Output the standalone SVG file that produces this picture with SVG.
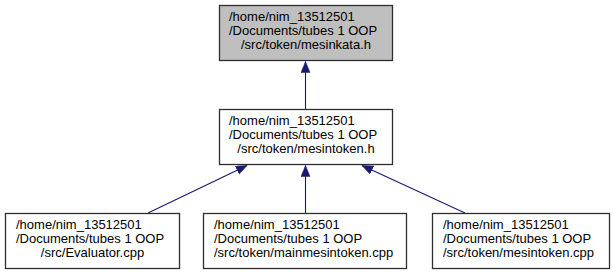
<svg xmlns="http://www.w3.org/2000/svg" width="613" height="275" viewBox="0 0 613 275">
  <style>
    .box { fill: #ffffff; stroke: #2e2e2e; stroke-width: 1.3; }
    .box.current { fill: #bfbfbf; }
    text { font-family: "Liberation Sans", Arial, Helvetica, sans-serif; font-size: 13px; fill: #000000; }
    .mid { text-anchor: middle; }
    .edge { fill: none; stroke: #191970; stroke-width: 1.1; }
  </style>
  <defs>
    <marker id="head" markerUnits="userSpaceOnUse" markerWidth="12" markerHeight="10" refX="11" refY="4.5" orient="auto">
      <path d="M0,0 L11,4.5 L0,9 z" fill="#191970" stroke="#191970" stroke-width="0.5"/>
    </marker>
  </defs>

  <g id="edges">
    <path class="edge" d="M305.5,109 L305.5,61.5" marker-end="url(#head)"/>
    <path class="edge" d="M305.5,213 L305.5,165.5" marker-end="url(#head)"/>
    <path class="edge" d="M148,213 L247,165.5" marker-end="url(#head)"/>
    <path class="edge" d="M465,213 L362,165.5" marker-end="url(#head)"/>
  </g>

  <g id="node-mesinkata-h">
    <rect class="box current" x="219.5" y="5.5" width="173" height="55"/>
    <text x="229" y="21">/home/nim_13512501</text>
    <text x="229" y="35">/Documents/tubes 1 OOP</text>
    <text class="mid" x="306" y="49">/src/token/mesinkata.h</text>
  </g>

  <g id="node-mesintoken-h">
    <rect class="box" x="219.5" y="109.5" width="173" height="55"/>
    <text x="229" y="125">/home/nim_13512501</text>
    <text x="229" y="139">/Documents/tubes 1 OOP</text>
    <text class="mid" x="306" y="153">/src/token/mesintoken.h</text>
  </g>

  <g id="node-evaluator-cpp">
    <rect class="box" x="5.5" y="213.5" width="174" height="55"/>
    <text x="16" y="229">/home/nim_13512501</text>
    <text x="16" y="243">/Documents/tubes 1 OOP</text>
    <text class="mid" x="92.5" y="257">/src/Evaluator.cpp</text>
  </g>

  <g id="node-mainmesintoken-cpp">
    <rect class="box" x="203.5" y="213.5" width="203" height="55"/>
    <text x="214" y="229">/home/nim_13512501</text>
    <text x="214" y="243">/Documents/tubes 1 OOP</text>
    <text x="214" y="257">/src/token/mainmesintoken.cpp</text>
  </g>

  <g id="node-mesintoken-cpp">
    <rect class="box" x="432.5" y="213.5" width="177" height="55"/>
    <text x="443" y="229">/home/nim_13512501</text>
    <text x="443" y="243">/Documents/tubes 1 OOP</text>
    <text x="443" y="257">/src/token/mesintoken.cpp</text>
  </g>
</svg>
